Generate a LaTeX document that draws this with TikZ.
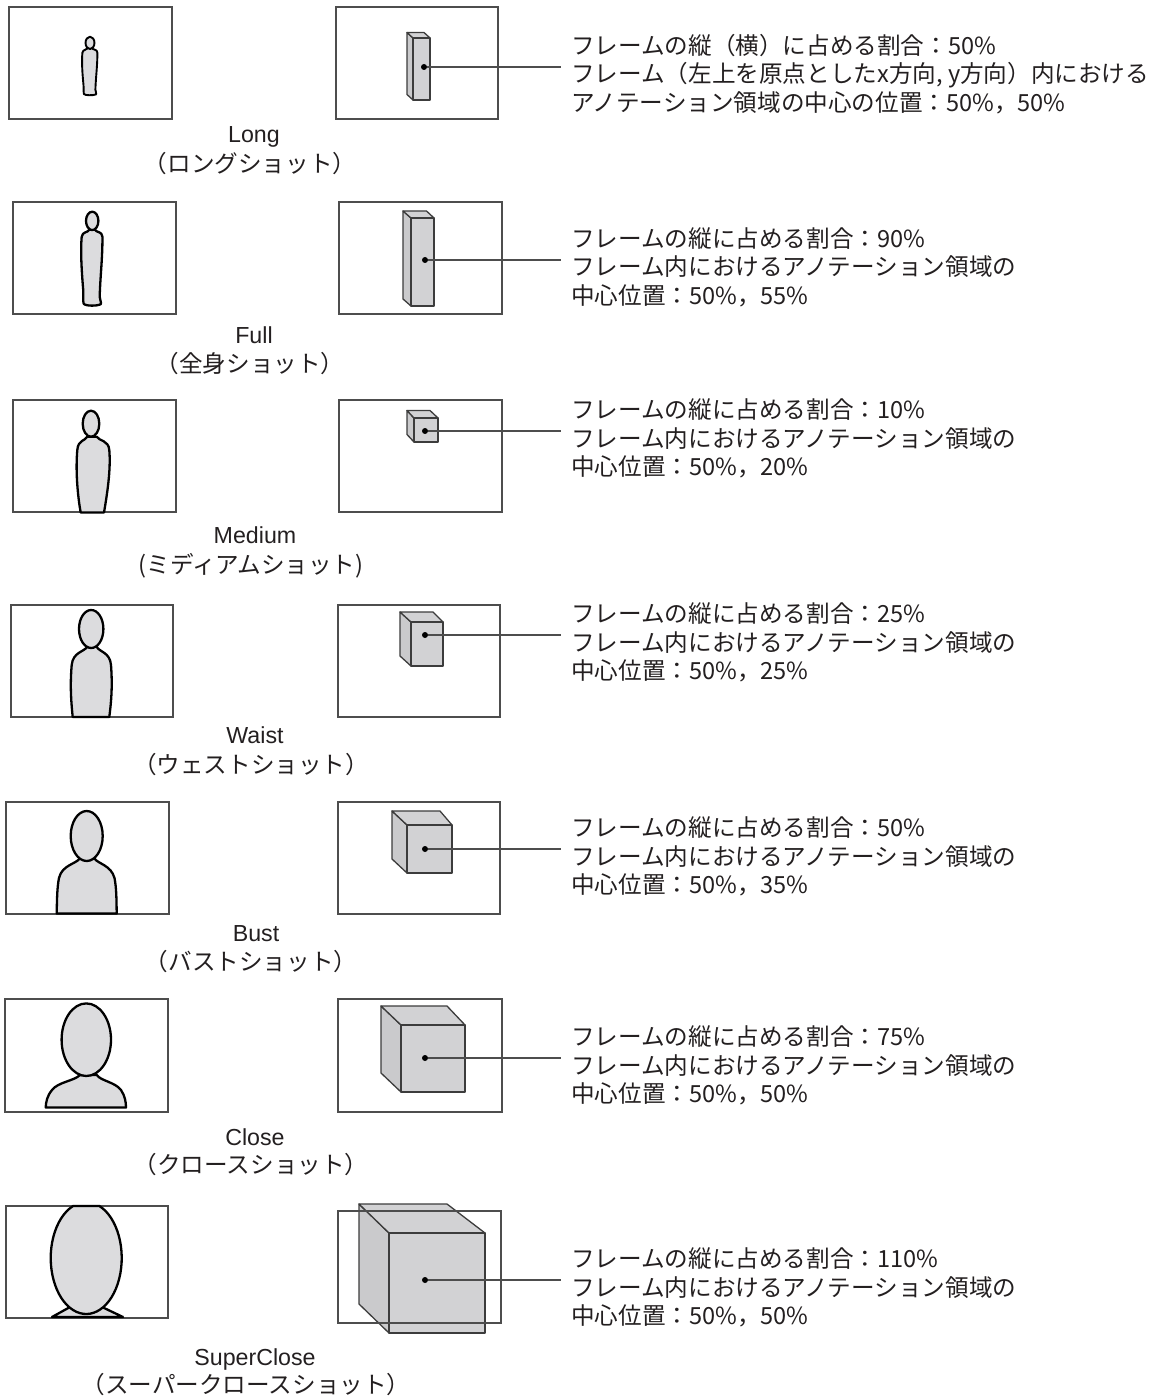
\documentclass[tikz,border=0pt]{standalone}
\usepackage{fontspec}
\newfontfamily\jfont{Noto Sans CJK JP}
\newfontfamily\efont{Liberation Sans}
\definecolor{framegray}{HTML}{4D4D4D}
\definecolor{cubeedge}{HTML}{3C3C3C}
\definecolor{cubefill}{HTML}{D2D2D4}
\definecolor{cubeside}{HTML}{CACACC}
\definecolor{figfill}{HTML}{DCDCDE}
\definecolor{textc}{HTML}{231F20}

% cube: front face (x1,y1)-(x2,y2), back offsets left/right and vertical
\newcommand\shotcube[7]{%
  \draw[cubeface,fill=cubeside] (#1,#2) -- ({#1-#5},{#2-#7}) -- ({#1-#5},{#4-#7}) -- (#1,#4) -- cycle;
  \draw[cubeface] (#1,#2) -- ({#1-#5},{#2-#7}) -- ({#3-#6},{#2-#7}) -- (#3,#2) -- cycle;
  \draw[cubeface] (#1,#2) rectangle (#3,#4);
}

\tikzset{
  shotframe/.style={draw=framegray, line width=1.3pt},
  fig/.style={draw=black, line width=2.3pt, fill=figfill, line join=round},
  cubeface/.style={draw=cubeedge, line width=1.3pt, fill=cubefill, line join=round},
  leader/.style={draw=framegray, line width=1.2pt},
  dotmark/.style={circle, fill=black, inner sep=0pt, minimum size=6pt},
  desc/.style={anchor=base west, inner sep=0pt, text=textc,
    font=\jfont\fontsize{23.6}{28}\selectfont},
  ename/.style={anchor=base, inner sep=0pt, text=textc,
    font=\efont\fontsize{23.2}{28}\selectfont},
  jname/.style={anchor=base, inner sep=0pt, text=textc,
    font=\jfont\fontsize{23.6}{28}\selectfont},
}

\begin{document}
\begin{tikzpicture}[x=1pt,y=-1pt]
\useasboundingbox (0,0) rectangle (1161,1396);

% ---------------- full-body figure outline (local units)
\def\fullbody{%
  (-2.8,18) .. controls (-4,21) and (-9.5,19.5) .. (-10.5,25)
  .. controls (-11.8,40) and (-10.5,60) .. (-9,78)
  .. controls (-8.5,85) and (-9.5,89) .. (-8.5,92)
  .. controls (-7,94.5) and (5,94.5) .. (8.5,92.5)
  .. controls (9.5,91) and (7.5,88) .. (7.5,85)
  .. controls (8,65) and (10.5,45) .. (10.2,25)
  .. controls (10,19.5) and (4,21) .. (2.8,18) -- cycle}

% ================= Long
\draw[shotframe] (9,7) rectangle (172,119);
\begin{scope}[shift={(90,37)}, xscale=0.72, yscale=0.62]
  \draw[fig, line width=1.9pt] \fullbody;
  \draw[fig, line width=1.9pt] (0,9.5) ellipse [x radius=6.2, y radius=10];
\end{scope}
\shotcube{413}{38}{430}{100}{6}{6}{5.5}
\draw[shotframe] (336,7) rectangle (498,119);
\node[dotmark] (p1) at (424,67) {};
\coordinate (e1) at (561,67);
\draw[leader] (p1) -- (e1);
\node[ename] (n1) at (254,143) {Long};
\node[jname] (j1) at (250,173) {（ロングショット）};
\node[desc] (d1a) at (571,54.5) {フレームの縦（横）に占める割合：50\%};
\node[desc] (d1b) at (571,83) {フレーム（左上を原点としたx方向, y方向）内における};
\node[desc] (d1c) at (571,111.5) {アノテーション領域の中心の位置：50\%，50\%};

% ================= Full
\draw[shotframe] (13,202) rectangle (176,314);
\begin{scope}[shift={(92.2,211.7)}]
  \draw[fig] \fullbody;
  \draw[fig] (0,9.2) ellipse [x radius=6.2, y radius=9.2];
\end{scope}
\shotcube{411}{218}{434}{306}{8}{7.5}{7}
\draw[shotframe] (339,202) rectangle (502,314);
\node[dotmark] (p2) at (425,260) {};
\coordinate (e2) at (561,260);
\draw[leader] (p2) -- (e2);
\node[ename] (n2) at (254,343) {Full};
\node[jname] (j2) at (250,372) {（全身ショット）};
\node[desc] (d2a) at (571,247.5) {フレームの縦に占める割合：90\%};
\node[desc] (d2b) at (571,276) {フレーム内におけるアノテーション領域の};
\node[desc] (d2c) at (571,304.5) {中心位置：50\%，55\%};

% ================= Medium
\draw[shotframe] (13,400) rectangle (176,512);
\draw[fig] (87.3,436.7) .. controls (85,441) and (78,440) .. (77.3,450)
  .. controls (75.5,470) and (77.5,495) .. (80.7,512.5)
  -- (104,512.5)
  .. controls (107,495) and (111,470) .. (109.3,450)
  .. controls (108.5,440) and (99,441) .. (96.7,436.7) -- cycle;
\draw[fig] (91,423.7) ellipse [x radius=8.3, y radius=13];
\shotcube{414}{418}{438}{442}{7}{8}{7.5}
\draw[shotframe] (339,400) rectangle (502,512);
\node[dotmark] (p3) at (425,431) {};
\coordinate (e3) at (561,431);
\draw[leader] (p3) -- (e3);
\node[ename] (n3) at (255,543) {Medium};
\node[jname] (j3) at (251,573) {(ミディアムショット)};
\node[desc] (d3a) at (571,418.5) {フレームの縦に占める割合：10\%};
\node[desc] (d3b) at (571,447) {フレーム内におけるアノテーション領域の};
\node[desc] (d3c) at (571,475.5) {中心位置：50\%，20\%};

% ================= Waist
\draw[shotframe] (11,605) rectangle (173,717);
\draw[fig] (87.3,646.7) .. controls (84,652) and (73,652) .. (71.7,665)
  .. controls (70,685) and (71,700) .. (72.7,717)
  -- (109.3,717)
  .. controls (111.5,700) and (112.5,685) .. (111,665)
  .. controls (110,652) and (99,652) .. (96.7,646.7) -- cycle;
\draw[fig] (91.2,629) ellipse [x radius=12.2, y radius=19];
\shotcube{411}{622}{443}{666}{11}{10}{10}
\draw[shotframe] (338,605) rectangle (500,717);
\node[dotmark] (p4) at (425,635) {};
\coordinate (e4) at (561,635);
\draw[leader] (p4) -- (e4);
\node[ename] (n4) at (255,743) {Waist};
\node[jname] (j4) at (251,773) {（ウェストショット）};
\node[desc] (d4a) at (571,622.5) {フレームの縦に占める割合：25\%};
\node[desc] (d4b) at (571,651) {フレーム内におけるアノテーション領域の};
\node[desc] (d4c) at (571,679.5) {中心位置：50\%，25\%};

% ================= Bust
\draw[shotframe] (6,802) rectangle (169,914);
\draw[fig] (80,858.3) .. controls (76,864) and (62,865) .. (59,878)
  .. controls (57,888) and (57,900) .. (56.7,913.5)
  -- (116.7,913.5)
  .. controls (116.5,900) and (116.5,888) .. (114.5,878)
  .. controls (111,865) and (98,864) .. (94.3,858.3) -- cycle;
\draw[fig] (86.7,836) ellipse [x radius=16, y radius=25];
\shotcube{407}{825}{452}{873}{15}{12}{14}
\draw[shotframe] (338,802) rectangle (500,914);
\node[dotmark] (p5) at (425,849) {};
\coordinate (e5) at (561,849);
\draw[leader] (p5) -- (e5);
\node[ename] (n5) at (256,941) {Bust};
\node[jname] (j5) at (251,970) {（バストショット）};
\node[desc] (d5a) at (571,836.5) {フレームの縦に占める割合：50\%};
\node[desc] (d5b) at (571,865) {フレーム内におけるアノテーション領域の};
\node[desc] (d5c) at (571,893.5) {中心位置：50\%，35\%};

% ================= Close
\draw[shotframe] (5,999) rectangle (168,1112);
\draw[fig] (80,1075) .. controls (74,1081) and (58,1082) .. (52,1090)
  .. controls (47,1096) and (46,1102) .. (45.7,1107.5)
  -- (126,1107.5)
  .. controls (126,1102) and (125,1096) .. (121,1090)
  .. controls (115,1082) and (101,1081) .. (96.7,1075) -- cycle;
\draw[fig] (86.3,1039.7) ellipse [x radius=24.7, y radius=36.3];
\shotcube{401}{1025}{465}{1092}{20}{18}{19}
\draw[shotframe] (338,999) rectangle (502,1112);
\node[dotmark] (p6) at (425,1058) {};
\coordinate (e6) at (561,1058);
\draw[leader] (p6) -- (e6);
\node[ename] (n6) at (255,1145) {Close};
\node[jname] (j6) at (251,1173) {（クロースショット）};
\node[desc] (d6a) at (571,1045.5) {フレームの縦に占める割合：75\%};
\node[desc] (d6b) at (571,1074) {フレーム内におけるアノテーション領域の};
\node[desc] (d6c) at (571,1102.5) {中心位置：50\%，50\%};

% ================= SuperClose
\draw[shotframe] (6,1206) rectangle (168,1318);
\draw[fig] (70,1307) -- (52,1317) -- (123,1317) -- (102,1307) -- cycle;
\draw[fig] (99.4,1206) arc [start angle=-68.2, end angle=248.2,
  x radius=35.5, y radius=56] -- cycle;
\shotcube{389}{1233}{485}{1333}{30}{38}{29}
\draw[shotframe] (338,1211) rectangle (501,1323);
\node[dotmark] (p7) at (425,1280) {};
\coordinate (e7) at (561,1280);
\draw[leader] (p7) -- (e7);
\node[ename] (n7) at (255,1365) {SuperClose};
\node[jname] (j7) at (246,1393) {（スーパークロースショット）};
\node[desc] (d7a) at (571,1267.5) {フレームの縦に占める割合：110\%};
\node[desc] (d7b) at (571,1296) {フレーム内におけるアノテーション領域の};
\node[desc] (d7c) at (571,1324.5) {中心位置：50\%，50\%};
\end{tikzpicture}
\end{document}
